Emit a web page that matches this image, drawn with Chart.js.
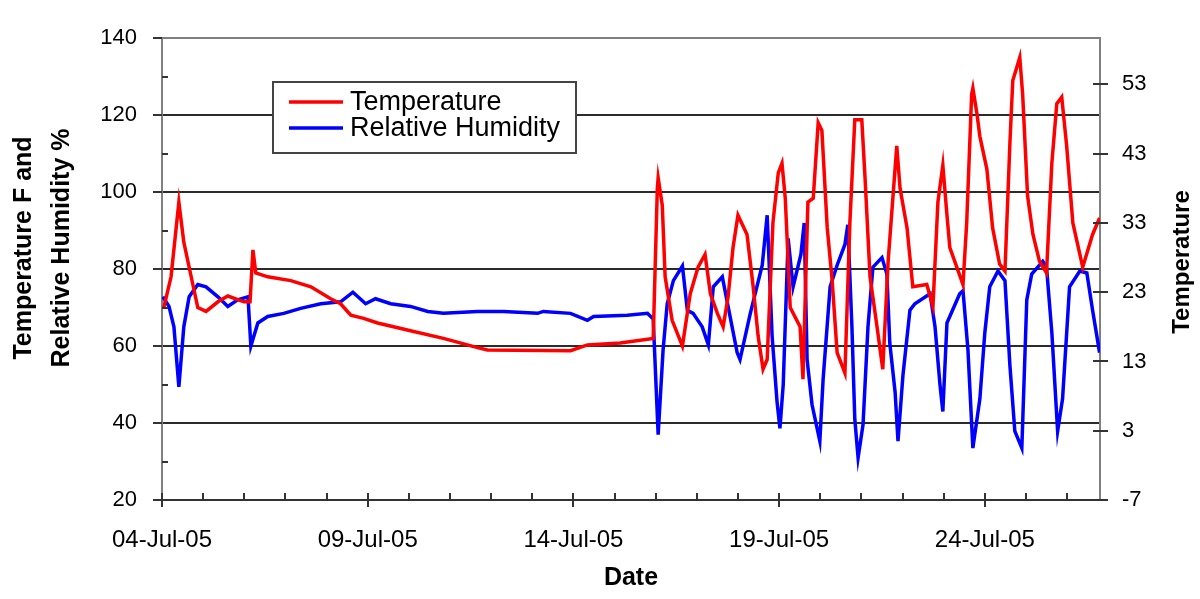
<!DOCTYPE html>
<html>
<head>
<meta charset="utf-8">
<script src="https://cdn.jsdelivr.net/npm/chart.js@4.4.1/dist/chart.umd.min.js"></script>
<style>
  body { margin: 0; background: #fff; }
  #wrap { width: 1200px; height: 599px; }
</style>
</head>
<body>
<div id="wrap"><canvas id="chart"></canvas></div>
<script>
// days since 04-Jul-05 00:00
var tempDays = [0.04, 0.22, 0.41, 0.53, 0.75, 0.87, 1.07, 1.36, 1.60, 1.99, 2.14, 2.21, 2.28, 2.57, 3.13, 3.62,
  4.10, 4.34, 4.59, 4.90, 5.24, 6.04, 6.84, 7.67, 7.91, 9.93, 10.34, 11.14, 11.94, 12.04, 12.06, 12.16,
  12.23, 12.40, 12.65, 12.84, 13.03, 13.20, 13.33, 13.50, 13.64, 13.76, 13.88, 14.00, 14.22, 14.37, 14.49,
  14.61, 14.71, 14.85, 14.98, 15.07, 15.15, 15.27, 15.51, 15.58, 15.70, 15.83, 15.95, 16.04, 16.17, 16.29,
  16.41, 16.60, 16.72, 16.84, 17.01, 17.09, 17.21, 17.38, 17.52, 17.65, 17.86, 17.94, 18.11, 18.25, 18.59,
  18.74, 18.86, 18.98, 19.08, 19.15, 19.47, 19.56, 19.68, 19.71, 19.81, 19.88, 20.05, 20.19, 20.36, 20.49,
  20.61, 20.68, 20.85, 20.92, 21.04, 21.17, 21.33, 21.50, 21.63, 21.75, 21.87, 21.99, 22.14, 22.38, 22.62, 22.79];
var tempValues = [69.8, 78, 97.4, 87, 76, 70, 69, 71.5, 73, 71.5, 71.5, 85, 79, 78, 77, 75.4,
  72.3, 71, 68, 67.2, 66, 64, 62, 59.6, 59, 58.8, 60.3, 60.8, 62, 101, 103.7, 96.6,
  78, 66.7, 60, 73.6, 80.5, 83.8, 73.6, 68.5, 65, 72.8, 85.6, 94, 89, 75.4, 62.6,
  54, 56.5, 92, 105, 107.5, 98.4, 70, 65, 51.4, 97.4, 98.4, 118, 116, 90.7, 77,
  58.3, 53, 92, 118.8, 118.8, 103.5, 78, 65, 54, 82, 112, 101, 90.7, 75.4, 76,
  70.3, 97.4, 107, 94, 85.6, 76, 92, 125.4, 127, 120.3, 114.5, 106, 90.7, 81.3, 79.5,
  112.7, 129, 135, 125.4, 99, 89, 82, 79, 107.6, 123, 124.7, 112, 92, 80.5, 89, 93.3];

var humDays = [0.02, 0.17, 0.29, 0.41, 0.53, 0.66, 0.87, 1.07, 1.36, 1.60, 1.84, 2.09, 2.16, 2.33, 2.57, 2.96,
  3.37, 3.86, 4.34, 4.64, 4.95, 5.19, 5.56, 6.04, 6.46, 6.84, 7.67, 8.30, 9.13, 9.27, 9.93, 10.34,
  10.49, 11.31, 11.80, 11.94, 12.06, 12.18, 12.28, 12.43, 12.65, 12.77, 12.91, 13.13, 13.28, 13.40, 13.62,
  13.76, 13.98, 14.05, 14.30, 14.59, 14.71, 14.83, 14.95, 15.02, 15.10, 15.22, 15.34, 15.53, 15.61, 15.68,
  15.80, 15.99, 16.07, 16.24, 16.41, 16.60, 16.67, 16.77, 16.84, 16.92, 17.04, 17.16, 17.28, 17.50, 17.62,
  17.69, 17.82, 17.89, 18.01, 18.18, 18.30, 18.67, 18.79, 18.91, 18.98, 19.08, 19.39, 19.47, 19.59, 19.71,
  19.88, 20.00, 20.12, 20.32, 20.49, 20.61, 20.73, 20.90, 21.02, 21.14, 21.41, 21.50, 21.63, 21.77, 21.89,
  22.06, 22.31, 22.48, 22.62, 22.79];
var humValues = [72.8, 70.3, 65, 49.4, 65, 72.8, 76, 75.4, 72.8, 70.3, 72, 72.8, 60, 66, 67.7, 68.5,
  69.8, 71, 71.5, 74, 71, 72.3, 71, 70.3, 69, 68.5, 69, 69, 68.5, 69, 68.5, 66.7,
  67.7, 68, 68.5, 67, 37, 59, 71, 77, 80.8, 69.3, 68.5, 65, 60.3, 75.4, 78,
  70.3, 58.3, 56.5, 68.5, 81, 94, 62.6, 45.5, 38.6, 50, 88, 75.4, 83.8, 92, 56.5,
  44.8, 35.3, 51.4, 75.4, 81, 86.4, 91.5, 65, 41, 31, 39.6, 65, 80.5, 83, 78.7,
  60.8, 48, 35.3, 52.4, 69.3, 71, 73.6, 65, 50, 43, 66, 73.6, 74.4, 59, 33.5,
  46.3, 63.4, 75.4, 79.5, 77, 55, 37.9, 33.5, 72, 78.7, 82, 80.5, 63.4, 37.9, 46.3,
  75.4, 79.5, 79, 69.3, 58.3];

var seriesNames = ['Temperature', 'Relative Humidity'];
var leftTitle = ['Temperature F and', 'Relative Humidity %'];
var rightTitle = 'Temperature';
var xTitle = 'Date';
var fahrenheitTicks = [20, 38, 56, 74, 92, 110, 128];   // where the Celsius ticks sit

var FONT = '"Liberation Sans", Arial, sans-serif';

function toC(f) { return (f - 32) * 5 / 9; }

function points(xs, ys) {
  return xs.map(function (x, i) { return {x: x, y: ys[i]}; });
}

function dayLabel(v) {
  var d = 4 + Math.round(v);
  return (d < 10 ? '0' + d : d) + '-Jul-05';
}

var tickMarks = {
  id: 'tickMarks',
  afterDraw: function (chart) {
    var ctx = chart.ctx, a = chart.chartArea;
    var x = chart.scales.x, y = chart.scales.y, y2 = chart.scales.y2;
    ctx.save();
    ctx.strokeStyle = '#333';
    ctx.lineWidth = 2;
    ctx.beginPath();
    for (var d = 0; d <= Math.floor(x.max); d++) {
      var px = Math.round(x.getPixelForValue(d));
      ctx.moveTo(px, a.bottom - 7);
      ctx.lineTo(px, d % 5 === 0 ? a.bottom + 7 : a.bottom);
    }
    for (var v = 20; v <= 140; v += 10) {
      var py = Math.round(y.getPixelForValue(v));
      if (v % 20 === 0) { ctx.moveTo(a.left - 9, py); ctx.lineTo(a.left, py); }
      else { ctx.moveTo(a.left, py); ctx.lineTo(a.left + 6, py); }
    }
    y2.ticks.forEach(function (t) {
      var py = Math.round(y2.getPixelForValue(t.value));
      ctx.moveTo(a.right - 7, py); ctx.lineTo(a.right + 8, py);
    });
    ctx.stroke();
    ctx.restore();
  }
};

var boxLegend = {
  id: 'boxLegend',
  afterDraw: function (chart) {
    var ctx = chart.ctx;
    var bx = 273, by = 82, bw = 303, bh = 71;
    ctx.save();
    ctx.fillStyle = '#fff';
    ctx.fillRect(bx, by, bw, bh);
    ctx.strokeStyle = '#444';
    ctx.lineWidth = 2;
    ctx.strokeRect(bx, by, bw, bh);
    ctx.font = '27px ' + FONT;
    ctx.textBaseline = 'middle';
    chart.data.datasets.forEach(function (ds, i) {
      var ly = by + 20 + i * 26;
      ctx.strokeStyle = ds.borderColor;
      ctx.lineWidth = 3.5;
      ctx.beginPath();
      ctx.moveTo(bx + 16, ly);
      ctx.lineTo(bx + 70, ly);
      ctx.stroke();
      ctx.fillStyle = '#000';
      ctx.fillText(ds.label, bx + 77, ly + 1);
    });
    ctx.restore();
  }
};

var axisTitles = {
  id: 'axisTitles',
  afterDraw: function (chart) {
    var ctx = chart.ctx, a = chart.chartArea;
    ctx.save();
    ctx.fillStyle = '#000';
    ctx.textAlign = 'center';
    ctx.textBaseline = 'middle';
    ctx.font = 'bold 25px ' + FONT;
    ctx.save();
    ctx.translate(24, 248);
    ctx.rotate(-Math.PI / 2);
    ctx.fillText(leftTitle[0], 0, 0);
    ctx.fillText(leftTitle[1], 0, 38);
    ctx.restore();
    ctx.font = 'bold 24px ' + FONT;
    ctx.translate(1182, 262);
    ctx.rotate(-Math.PI / 2);
    ctx.fillText(rightTitle, 0, 0);
    ctx.restore();
  }
};

new Chart(document.getElementById('chart'), {
  type: 'line',
  data: {
    datasets: [{
      label: seriesNames[0],
      data: points(tempDays, tempValues),
      borderColor: '#ff0000',
      borderWidth: 3.5,
      pointRadius: 0,
      tension: 0
    }, {
      label: seriesNames[1],
      data: points(humDays, humValues),
      borderColor: '#0000ff',
      borderWidth: 3.5,
      pointRadius: 0,
      tension: 0
    }]
  },
  options: {
    responsive: true,
    maintainAspectRatio: false,
    animation: false,
    layout: { padding: { top: 30, left: 0, right: 0, bottom: 0 } },
    plugins: { legend: { display: false }, tooltip: { enabled: false } },
    scales: {
      x: {
        type: 'linear',
        min: 0,
        max: 22.8,
        afterFit: function (s) { s.height = 99; },
        afterBuildTicks: function (s) {
          s.ticks = [0, 5, 10, 15, 20].map(function (v) { return {value: v}; });
        },
        ticks: {
          callback: dayLabel,
          maxRotation: 0,
          autoSkip: false,
          padding: 26,
          color: '#000',
          font: { family: FONT, size: 24 }
        },
        grid: { display: false, drawTicks: false },
        border: { display: true, color: '#333', width: 2 },
        title: {
          display: true,
          text: xTitle,
          color: '#000',
          font: { family: FONT, size: 25, weight: 'bold' },
          padding: { top: 0, bottom: 6 }
        }
      },
      y: {
        position: 'left',
        min: 20,
        max: 140,
        afterFit: function (s) { s.width = 162; },
        ticks: {
          stepSize: 20,
          padding: 25,
          color: '#000',
          font: { family: FONT, size: 22 }
        },
        grid: {
          drawTicks: false,
          lineWidth: 2,
          color: function (c) { return c.tick && c.tick.value === 140 ? '#808080' : '#2b2b2b'; }
        },
        border: { display: true, color: '#808080', width: 2 }
      },
      y2: {
        position: 'right',
        min: toC(20),
        max: toC(140),
        afterFit: function (s) { s.width = 100; },
        afterBuildTicks: function (s) {
          s.ticks = fahrenheitTicks.map(function (f) { return {value: toC(f)}; });
        },
        ticks: {
          padding: 22,
          color: '#000',
          font: { family: FONT, size: 22 },
          callback: function (v) { return Math.round(v); }
        },
        grid: { drawOnChartArea: false, drawTicks: false },
        border: { display: true, color: '#808080', width: 2 }
      }
    }
  },
  plugins: [tickMarks, boxLegend, axisTitles]
});
</script>
</body>
</html>
